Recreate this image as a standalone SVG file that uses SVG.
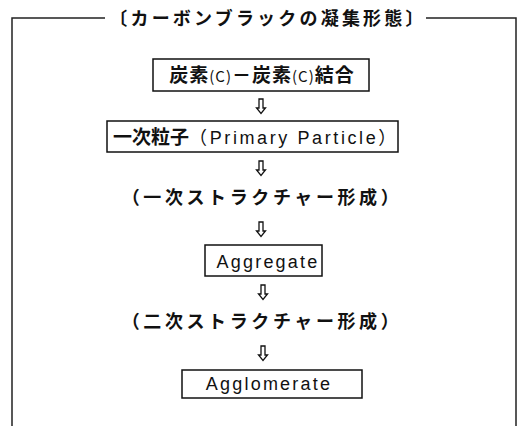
<svg xmlns="http://www.w3.org/2000/svg" width="520" height="426" viewBox="0 0 520 426">
<style>
.frame{fill:none;stroke:#222;stroke-width:1.5}
.box{fill:#fff;stroke:#111;stroke-width:1.5}
.t{font-family:"Noto Sans CJK JP","Liberation Sans",sans-serif;font-size:18px;font-weight:bold;fill:#111;text-anchor:middle}
.e{font-family:"Liberation Sans","Noto Sans CJK JP",sans-serif;font-size:18px;fill:#111;text-anchor:middle;letter-spacing:2.2px}
.arr{fill:#fff;stroke:#111;stroke-width:1.3;stroke-linejoin:miter}
</style>
<defs>
<path id="dn" class="arr" d="M-2,-7 L2,-7 L2,2 L4.5,2 L0,7.5 L-4.5,2 L-2,2 Z"/>
</defs>
<rect width="520" height="426" fill="#fff"/>
<g id="frame">
<path class="frame" d="M105,18 L12,18 L12,426"/>
<path class="frame" d="M426,18 L516,18 L516,426"/>
<text class="t" x="268" y="25" style="font-size:18px;letter-spacing:3.2px">〔カーボンブラックの凝集形態〕</text>
</g>
<g id="connectors">
<use href="#dn" x="261" y="106"/>
<use href="#dn" x="261" y="168"/>
<use href="#dn" x="261" y="229"/>
<use href="#dn" x="263" y="292"/>
<use href="#dn" x="263" y="353"/>
</g>
<g id="n1">
<rect class="box" x="153" y="59" width="216" height="32"/>
<text class="t" x="262" y="82" style="font-size:19px;letter-spacing:1px">炭素<tspan style="font-size:15px;font-weight:normal">(C)</tspan>－炭素<tspan style="font-size:15px;font-weight:normal">(C)</tspan>結合</text>
</g>
<g id="n2">
<rect class="box" x="107" y="121" width="291" height="31"/>
<text class="t" x="256" y="144" style="font-size:19px">一次粒子<tspan style="font-weight:normal;font-size:18px;font-family:'Liberation Sans','Noto Sans CJK JP',sans-serif;letter-spacing:2.6px">（Primary Particle）</tspan></text>
</g>
<g id="n3">
<text class="t" x="262" y="204" style="letter-spacing:3.6px">（一次ストラクチャー形成）</text>
</g>
<g id="n4">
<rect class="box" x="205" y="245" width="117" height="31"/>
<text class="e" x="268" y="268">Aggregate</text>
</g>
<g id="n5">
<text class="t" x="262" y="328" style="letter-spacing:3.6px">（二次ストラクチャー形成）</text>
</g>
<g id="n6">
<rect class="box" x="182" y="370" width="180" height="28"/>
<text class="e" x="269" y="390">Agglomerate</text>
</g>
</svg>
